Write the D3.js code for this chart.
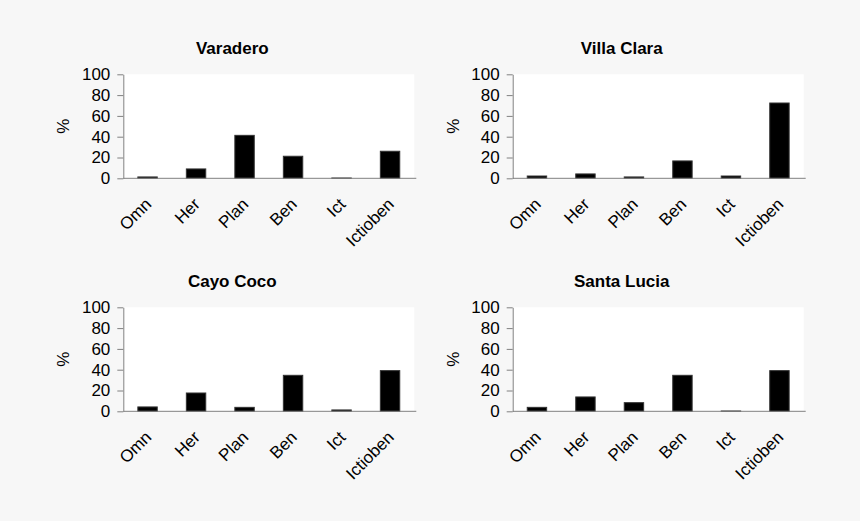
<!DOCTYPE html>
<html>
<head>
<meta charset="utf-8">
<script src="https://cdn.jsdelivr.net/npm/d3@7"></script>
<style>
  html, body { margin: 0; padding: 0; background: #f7f7f7; }
  svg { display: block; }
  text { font-family: "Liberation Sans", Arial, Helvetica, sans-serif; fill: #000; }
</style>
</head>
<body>
<svg id="chart" width="860" height="521"></svg>
<script>
const categories = ["Omn", "Her", "Plan", "Ben", "Ict", "Ictioben"];
const titles = ["Varadero", "Villa Clara", "Cayo Coco", "Santa Lucia"];
const varaderoValues   = [1.3, 9.0, 41.3, 21.2, 0.3, 26.0];
const villaClaraValues = [2.2, 4.2, 1.3, 16.7, 2.2, 72.4];
const cayoCocoValues   = [4.2, 17.6, 3.8, 34.6, 1.3, 39.1];
const santaLuciaValues = [3.8, 13.8, 8.3, 34.6, 0.3, 39.1];
const yTicks = [0, 20, 40, 60, 80, 100];
const yLabel = "%";

const panels = [
  { title: titles[0], values: varaderoValues,   x0: 123.3, y0: 74.3 },
  { title: titles[1], values: villaClaraValues, x0: 512.7, y0: 74.3 },
  { title: titles[2], values: cayoCocoValues,   x0: 123.3, y0: 307.3 },
  { title: titles[3], values: santaLuciaValues, x0: 512.7, y0: 307.3 }
];

const W = 291, H = 104;
const svg = d3.select("#chart");
svg.append("rect").attr("width", 860).attr("height", 521).attr("fill", "#f7f7f7");

panels.forEach(p => {
  const g = svg.append("g").attr("transform", `translate(${p.x0},${p.y0})`);
  const x = d3.scaleBand().domain(categories).range([0, W]).paddingInner(0.6).paddingOuter(0.3);
  const y = d3.scaleLinear().domain([0, 100]).range([H, 0]);

  g.append("rect").attr("x", 0).attr("y", 0).attr("width", W).attr("height", H).attr("fill", "#fff");

  // bars
  g.selectAll("rect.bar").data(p.values).enter().append("rect")
    .attr("class", "bar")
    .attr("x", (d, i) => x(categories[i]))
    .attr("y", d => y(d))
    .attr("width", x.bandwidth())
    .attr("height", d => H - y(d))
    .attr("fill", "#000")
    .attr("stroke", "#333")
    .attr("stroke-width", 1);

  // y axis
  const yAxis = d3.axisLeft(y).tickValues(yTicks).tickSize(6).tickPadding(7).tickSizeOuter(0);
  const ya = g.append("g").call(yAxis);
  ya.select(".domain").attr("stroke", "#808080");
  ya.selectAll(".tick line").attr("stroke", "#808080");
  ya.selectAll(".tick text").attr("font-size", 17).attr("fill", "#000")
    .attr("font-family", '"Liberation Sans", Arial, sans-serif');

  // x baseline
  g.append("line").attr("x1", 0).attr("x2", W + 2).attr("y1", H).attr("y2", H)
    .attr("stroke", "#808080").attr("stroke-width", 1);

  // x labels
  g.selectAll("text.xl").data(categories).enter().append("text")
    .attr("class", "xl")
    .attr("transform", d => `translate(${x(d) + x.bandwidth() / 2 + 5},${H + 27}) rotate(-45)`)
    .attr("text-anchor", "end")
    .attr("font-size", 17)
    .text(d => d);

  // title
  g.append("text").attr("x", 109).attr("y", -20)
    .attr("text-anchor", "middle").attr("font-size", 17).attr("font-weight", "bold")
    .text(p.title);

  // y label
  g.append("text")
    .attr("transform", `translate(-60,${H / 2}) rotate(-90)`)
    .attr("text-anchor", "middle").attr("dy", "0.35em")
    .attr("font-size", 17)
    .text(yLabel);
});
</script>
</body>
</html>
